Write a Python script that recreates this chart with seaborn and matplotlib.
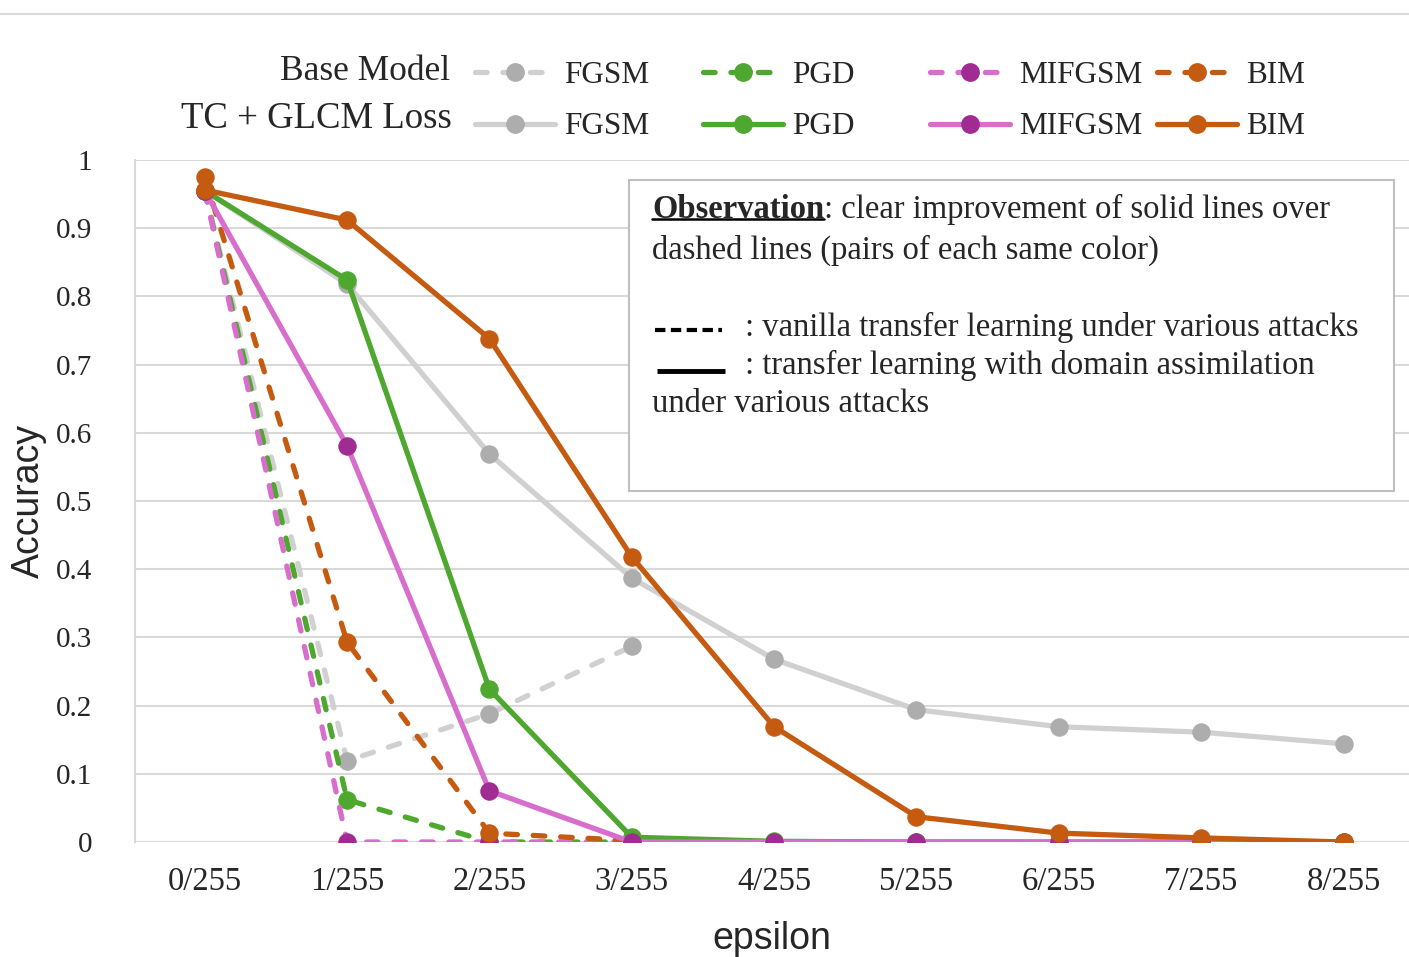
import numpy as np
import pandas as pd
import matplotlib
matplotlib.use("Agg")
import matplotlib.pyplot as plt
import seaborn as sns
from matplotlib.lines import Line2D
from matplotlib.patches import Rectangle

sns.set_style("white")
plt.rcParams['font.family'] = ['Liberation Serif', 'DejaVu Serif']

eps_labels = ['0/255', '1/255', '2/255', '3/255', '4/255', '5/255', '6/255', '7/255', '8/255']

# base model (dashed)
fgsm_base = [0.955, 0.119, 0.188, 0.287]
pgd_base = [0.955, 0.062, 0.0, 0.0]
mifgsm_base = [0.955, 0.0, 0.0, 0.0]
bim_base = [0.975, 0.293, 0.013, 0.002]

# TC + GLCM loss (solid)
fgsm_tc = [0.955, 0.818, 0.569, 0.387, 0.268, 0.194, 0.169, 0.161, 0.144]
pgd_tc = [0.955, 0.824, 0.224, 0.007, 0.001, 0.0, 0.0, 0.0, 0.0]
mifgsm_tc = [0.955, 0.581, 0.075, 0.0, 0.0, 0.0, 0.0, 0.0, 0.0]
bim_tc = [0.956, 0.912, 0.738, 0.418, 0.169, 0.037, 0.013, 0.006, 0.0]

attacks = ['FGSM', 'PGD', 'MIFGSM', 'BIM']
line_cols = ['#D0D0D0', '#4EA72E', '#D86ECC', '#C55A11']
mark_cols = ['#ADADAD', '#4EA72E', '#A02B93', '#C55A11']

LW = 3.8
MS = 12.5
dash = (2.2, 3.0)

fig = plt.figure(figsize=(14.09, 9.57), dpi=100)
ax = fig.add_axes([135/1409, 115/957, 1 - 135/1409, 682/957])

for i, vals in enumerate([fgsm_base, pgd_base, mifgsm_base, bim_base]):
    sns.lineplot(x=np.arange(len(vals)), y=vals, ax=ax, color=line_cols[i],
                 linewidth=LW, marker='o', markersize=MS,
                 markerfacecolor=mark_cols[i], markeredgecolor=mark_cols[i],
                 zorder=3)
    ax.lines[-1].set_dashes(dash)
    ax.lines[-1].set_dash_capstyle('round')
for i, vals in enumerate([fgsm_tc, pgd_tc, mifgsm_tc, bim_tc]):
    sns.lineplot(x=np.arange(len(vals)), y=vals, ax=ax, color=line_cols[i],
                 linewidth=LW, marker='o', markersize=MS,
                 markerfacecolor=mark_cols[i], markeredgecolor=mark_cols[i],
                 zorder=4)

ax.set_xlim(-0.49, 8.46)
ax.set_ylim(0, 1)
ax.set_xticks(range(9))
ax.set_xticklabels(eps_labels, fontsize=23.5)
yt = np.round(np.arange(0, 1.01, 0.1), 1)
ax.set_yticks(yt)
ax.set_yticklabels(['0' if v == 0 else ('1' if v == 1 else f'{v:.1f}') for v in yt], fontsize=21)
ax.tick_params(axis='x', length=0, pad=18)
ax.tick_params(axis='y', length=0, pad=31)
ax.grid(axis='y', color='#D9D9D9', linewidth=1.5, zorder=0)
for s in ['top', 'right', 'bottom']:
    ax.spines[s].set_visible(False)
ax.spines['left'].set_color('#D9D9D9')
ax.spines['left'].set_linewidth(1.5)

ax.set_xlabel('epsilon', family=['Liberation Sans', 'DejaVu Sans'], fontsize=27, labelpad=17)
ax.set_ylabel('Accuracy', family=['Liberation Sans', 'DejaVu Sans'], fontsize=27, va='center')
ax.yaxis.set_label_coords(-0.083, 0.5)

# observation box
FS = 23.5
ax.add_patch(Rectangle((0.388, 0.515), 0.600, 0.456, transform=ax.transAxes,
                       facecolor='white', edgecolor='#BFBFBF', linewidth=1.5, zorder=5))
obs = ax.text(0.406, 0.927, 'Observation', transform=ax.transAxes, fontsize=FS,
              fontweight='bold', va='center', ha='left', zorder=6)
ax.annotate(': clear improvement of solid lines over', xy=(1, 0), xycoords=obs,
            va='bottom', ha='left', fontsize=FS, zorder=6)
ax.text(0.406, 0.868, 'dashed lines (pairs of each same color)', transform=ax.transAxes,
        fontsize=FS, va='center', zorder=6)
ax.text(0.479, 0.754, ': vanilla transfer learning under various attacks',
        transform=ax.transAxes, fontsize=FS, va='center', zorder=6)
ax.text(0.479, 0.698, ': transfer learning with domain assimilation',
        transform=ax.transAxes, fontsize=FS, va='center', zorder=6)
ax.text(0.406, 0.642, 'under various attacks', transform=ax.transAxes,
        fontsize=FS, va='center', zorder=6)
ax.plot([0.408, 0.461], [0.751, 0.751], transform=ax.transAxes, color='black',
        linewidth=3, dashes=(2.5, 1.3), zorder=6)
ax.plot([0.410, 0.463], [0.691, 0.691], transform=ax.transAxes, color='black',
        linewidth=3.5, zorder=6, solid_capstyle='butt')

# legend: one small legend per attack column
col_x = [475, 703, 930, 1157]
for i, a in enumerate(attacks):
    h_dash = Line2D([], [], color=line_cols[i], linewidth=LW, dashes=dash,
                    dash_capstyle='round', marker='o', markersize=MS,
                    markerfacecolor=mark_cols[i], markeredgecolor=mark_cols[i])
    h_solid = Line2D([], [], color=line_cols[i], linewidth=LW, solid_capstyle='round',
                     marker='o', markersize=MS, markerfacecolor=mark_cols[i],
                     markeredgecolor=mark_cols[i])
    leg = fig.legend([h_dash, h_solid], [a, a], loc='upper left',
                     bbox_to_anchor=(col_x[i]/1409, 1 - 61/957),
                     frameon=False, fontsize=22.5, handlelength=2.55, handletextpad=0.3,
                     labelspacing=0.72, borderpad=0, borderaxespad=0)
fig.text(450/1409, 1 - 72/957, 'Base Model', ha='right', va='center', fontsize=25.5)
fig.text(452/1409, 1 - 119/957, 'TC + GLCM Loss', ha='right', va='center', fontsize=26.5)

# top border line
fig.add_artist(Line2D([0, 1], [1 - 14/957, 1 - 14/957], transform=fig.transFigure,
                      color='#D9D9D9', linewidth=1.5))

# underline for "Observation"
fig.canvas.draw()
bb = obs.get_window_extent()
uy = bb.y0 + 0.2 * bb.height
W = fig.dpi * fig.get_figwidth()
H = fig.dpi * fig.get_figheight()
fig.add_artist(Line2D([bb.x0 / W, bb.x1 / W], [uy / H] * 2, transform=fig.transFigure,
                      color='black', linewidth=1.8, zorder=7))

fig.savefig('out.png', dpi=100)
